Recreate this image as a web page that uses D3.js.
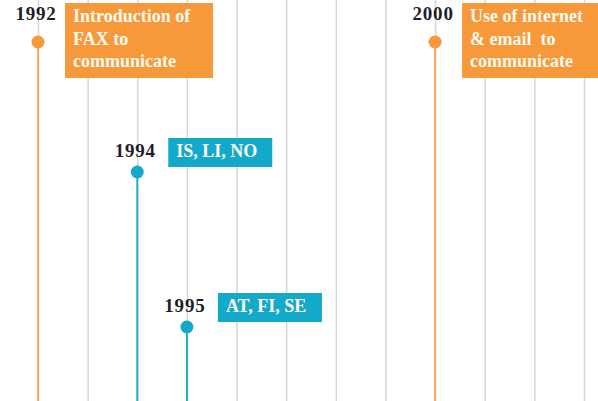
<!DOCTYPE html>
<html>
<head>
<meta charset="utf-8">
<script src="https://cdn.jsdelivr.net/npm/d3@7"></script>
<style>
  body { margin: 0; background: #fff; }
  svg { display: block; }
  .grid line { stroke: #d6d6d6; stroke-width: 1.5; }
  .grid path { display: none; }
  .year { font-family: "Liberation Serif", "Times New Roman", "DejaVu Serif", serif; font-weight: bold; font-size: 19px; fill: #1e1e2a; letter-spacing: 0.8px; }
  .boxText { font-family: "Liberation Serif", "Times New Roman", "DejaVu Serif", serif; font-weight: bold; font-size: 18px; fill: #fffaf0; }
</style>
</head>
<body>
<svg id="timeline" width="598" height="401"></svg>
<script>
// timeline data
const gridYears = [1992, 1993, 1994, 1995, 1996, 1997, 1998, 1999, 2000, 2001, 2002, 2003];
const eventYears = [1992, 1994, 1995, 2000];
const eventLabels = [
    ["Introduction of", "FAX to", "communicate"],
    ["IS, LI, NO"],
    ["AT, FI, SE"],
    ["Use of internet", "& email  to", "communicate"]
];
const eventKinds = ["milestone", "accession", "accession", "milestone"];
const eventTiers = ["top", "middle", "bottom", "top"];

let width = 598, height = 401;
let svg = d3.select("svg#timeline");

let x = d3.scaleLinear().domain([1992, 2003]).range([38, 584]);
let y = d3.scaleOrdinal().domain(["top", "middle", "bottom"]).range([42, 172, 327]);
let color = d3.scaleOrdinal().domain(["milestone", "accession"]).range(["#f7983a", "#13a9ca"]);
let stemColor = d3.scaleOrdinal().domain(["milestone", "accession"]).range(["#f9a965", "#13a9ca"]);

// style per kind of event
let boxStyle = {
    milestone: { dx: 27, top: -39, w: 148, h: 75, yearDy: -22 },
    accession: { dx: 31, top: -34, w: 104, h: 29, yearDy: -15 }
};

// vertical grid lines for each year
let gridAxis = d3.axisTop(x).tickValues(gridYears).tickSize(-height).tickFormat("");
svg.append("g")
    .attr("class", "grid")
    .attr("transform", "translate(0,0)")
    .call(gridAxis);

let events = eventYears.map(function(d, i) {
    return { year: d, lines: eventLabels[i], kind: eventKinds[i], tier: eventTiers[i] };
});

let g = svg.selectAll("g.event").data(events).enter()
    .append("g")
    .attr("class", "event")
    .attr("transform", function(d) { return "translate(" + x(d.year) + "," + y(d.tier) + ")"; });

g.append("line")
    .attr("x1", 0).attr("x2", 0)
    .attr("y1", 0)
    .attr("y2", function(d) { return height - y(d.tier); })
    .attr("stroke", function(d) { return stemColor(d.kind); })
    .attr("stroke-width", function(d) { return d.kind === "milestone" ? 2 : 1.8; });

g.append("circle")
    .attr("r", 6.5)
    .attr("fill", function(d) { return color(d.kind); });

g.append("text")
    .attr("class", "year")
    .attr("x", -2)
    .attr("y", function(d) { return boxStyle[d.kind].yearDy; })
    .attr("text-anchor", "middle")
    .text(function(d) { return d.year; });

g.append("rect")
    .attr("x", function(d) { return boxStyle[d.kind].dx; })
    .attr("y", function(d) { return boxStyle[d.kind].top; })
    .attr("width", function(d) { return boxStyle[d.kind].w; })
    .attr("height", function(d) { return boxStyle[d.kind].h; })
    .attr("fill", function(d) { return color(d.kind); });

g.each(function(d) {
    let s = boxStyle[d.kind];
    let t = d3.select(this).append("text")
        .attr("class", "boxText");
    t.selectAll("tspan").data(d.lines).enter()
        .append("tspan")
        .attr("x", s.dx + 8)
        .attr("y", function(l, i) { return s.top + 19 + i * 22.5; })
        .attr("xml:space", "preserve")
        .style("white-space", "pre")
        .text(function(l) { return l; });
});
</script>
</body>
</html>
